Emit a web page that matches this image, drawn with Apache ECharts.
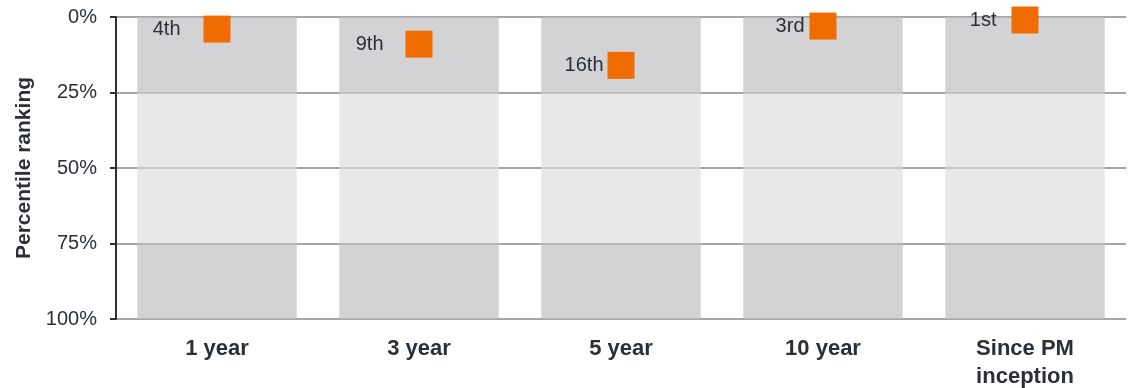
<!DOCTYPE html>
<html><head><meta charset="utf-8">
<script src="https://cdn.jsdelivr.net/npm/echarts@6/dist/echarts.min.js"></script>
<style>html,body{margin:0;padding:0;background:#fff}#c{width:1132px;height:388px}</style>
</head><body><div id="c"></div>
<script>
const categories = ['1 year', '3 year', '5 year', '10 year', 'Since PM\ninception'];
const band1 = [25, 25, 25, 25, 25];
const band2 = [25, 25, 25, 25, 25];
const band3 = [25, 25, 25, 25, 25];
const band4 = [25, 25, 25, 25, 25];
const ranking = [4, 9, 16, 3, 1];
const rankLabels = ['4th', '9th', '16th', '3rd', '1st'];
const yTicks = [0, 25, 50, 75, 100];
// label gap (style) per point
const labelGaps = [23, 22, 4, 5, 15];

const FONT = '"Liberation Sans", Arial, sans-serif';
const TXT = '#2b2f38';
const dark = 'rgba(188,189,192,0.663)';
const light = 'rgba(220,220,220,0.663)';
function band(data, color) {
  return { type: 'bar', stack: 'b', data: data, barWidth: '79%',
    itemStyle: { color: color }, silent: true, z: 2 };
}
const chart = echarts.init(document.getElementById('c'));
chart.setOption({
  animation: false,
  grid: { left: 116, right: 6, top: 17, bottom: 69, containLabel: false, outerBoundsMode: 'none' },
  xAxis: {
    type: 'category', data: categories,
    axisLine: { show: false }, axisTick: { show: false },
    axisLabel: { fontFamily: FONT, fontWeight: 'bold', fontSize: 22, color: TXT, margin: 16, lineHeight: 28, verticalAlign: 'top' }
  },
  yAxis: {
    type: 'value', inverse: true, min: yTicks[0], max: yTicks[yTicks.length - 1], interval: 25,
    name: 'Percentile ranking', nameLocation: 'middle', nameGap: 81,
    nameTextStyle: { fontFamily: FONT, fontWeight: 'bold', fontSize: 21, color: TXT },
    axisLine: { show: true, lineStyle: { color: TXT, width: 2 } },
    axisTick: { show: true, length: 6, lineStyle: { color: TXT, width: 2 } },
    axisLabel: { fontFamily: FONT, fontSize: 20, color: TXT, margin: 19, formatter: '{value}%' },
    splitLine: { show: true, lineStyle: { color: '#a6a6a6', width: 2 } }
  },
  series: [
    band(band1, dark), band(band2, light), band(band3, light), band(band4, dark),
    { type: 'scatter', symbol: 'rect', symbolSize: 27, z: 5,
      data: ranking.map((v, i) => ({ value: v, label: { distance: labelGaps[i] } })),
      itemStyle: { color: '#f06c00', opacity: 1 },
      label: { show: true, position: 'left', fontFamily: FONT, fontSize: 20, color: TXT,
        formatter: p => rankLabels[p.dataIndex] } }
  ]
});
</script></body></html>
